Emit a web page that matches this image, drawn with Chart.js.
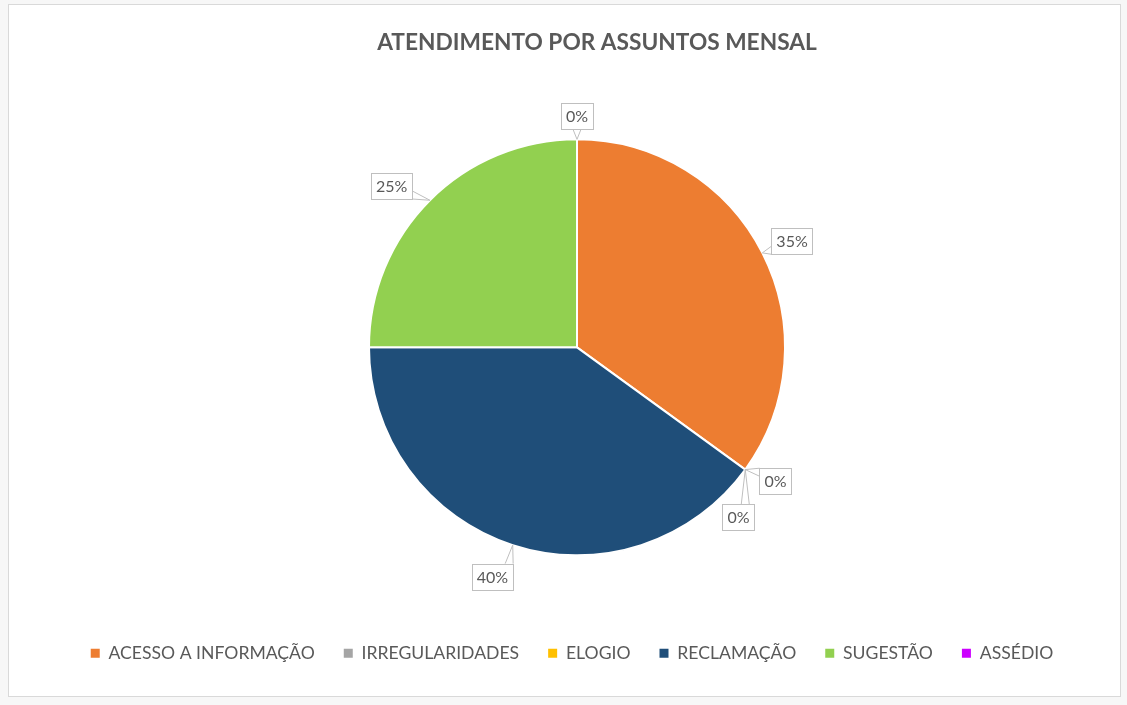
<!DOCTYPE html>
<html>
<head>
<meta charset="utf-8">
<script src="https://cdn.jsdelivr.net/npm/chart.js@4.4.0/dist/chart.umd.min.js"></script>
<style>
    html, body { margin: 0; padding: 0; background: #f7f7f7; }
    #box {
        position: absolute; left: 8px; top: 4px;
        width: 1111px; height: 691px;
        border: 1px solid #d9d9d9; background: #fff;
    }
    canvas { display: block; }
</style>
</head>
<body>
<div id="box"><canvas id="pieChart"></canvas></div>
<script>
const chartTitle = "ATENDIMENTO POR ASSUNTOS MENSAL";
const categories = ["ACESSO A INFORMAÇÃO", "IRREGULARIDADES", "ELOGIO", "RECLAMAÇÃO", "SUGESTÃO", "ASSÉDIO"];
const shares = [35, 0, 0, 40, 25, 0];
const sliceColors = ["#ED7D31", "#A5A5A5", "#FFC000", "#1F4E79", "#92D050", "#CC00FF"];

// callout boxes with a little pointer, placed just outside each slice
const calloutPlugin = {
    id: "callout",
    afterDatasetsDraw(chart, args, opts) {
        const ctx = chart.ctx;
        const meta = chart.getDatasetMeta(0);
        const values = chart.data.datasets[0].data;
        const total = values.reduce((a, b) => a + b, 0);

        ctx.save();
        ctx.font = opts.font;
        ctx.textAlign = "center";
        ctx.textBaseline = "middle";

        meta.data.forEach((arc, i) => {
            const p = arc.getProps(["x", "y", "startAngle", "endAngle", "outerRadius"], true);
            const mid = (p.startAngle + p.endAngle) / 2;
            const ax = p.x + Math.cos(mid) * p.outerRadius;
            const ay = p.y + Math.sin(mid) * p.outerRadius;
            const nudge = opts.nudges[i] || [0, 0];
            const cx = ax + Math.cos(mid) * opts.distance + nudge[0];
            const cy = ay + Math.sin(mid) * opts.distance + nudge[1];

            const text = Math.round(values[i] / total * 100) + "%";
            const w = ctx.measureText(text).width + opts.padX * 2;
            const h = opts.boxHeight;
            const left = cx - w / 2, top = cy - h / 2;

            // pointer base on the side facing the anchor
            const dx = ax - cx, dy = ay - cy;
            let b1, b2;
            if (Math.abs(dy) / h > Math.abs(dx) / w) {
                const sy = dy > 0 ? top + h : top;
                const px = Math.min(Math.max(ax, left + 4), left + w - 4);
                b1 = [Math.max(px - 4, left), sy];
                b2 = [Math.min(px + 4, left + w), sy];
            } else {
                const sx = dx > 0 ? left + w : left;
                const py = Math.min(Math.max(ay, top + 4), top + h - 4);
                b1 = [sx, Math.max(py - 4, top)];
                b2 = [sx, Math.min(py + 4, top + h)];
            }

            ctx.fillStyle = "#fff";
            ctx.strokeStyle = opts.lineColor;
            ctx.lineWidth = 1;
            ctx.fillRect(left, top, w, h);
            ctx.strokeRect(Math.round(left) + 0.5, Math.round(top) + 0.5, Math.round(w), Math.round(h));

            ctx.beginPath();
            ctx.moveTo(b1[0], b1[1]);
            ctx.lineTo(ax, ay);
            ctx.lineTo(b2[0], b2[1]);
            ctx.stroke();

            ctx.fillStyle = opts.color;
            ctx.fillText(text, cx, cy + 1);
        });
        ctx.restore();
    }
};

// title and legend are not centred on the pie in the original
const shiftBlocks = {
    id: "shiftBlocks",
    afterLayout(chart, args, opts) {
        chart.titleBlock.left += opts.title;
        chart.titleBlock.right += opts.title;
        chart.legend.left += opts.legend;
        chart.legend.right += opts.legend;
    }
};

const pieChart = new Chart(document.getElementById("pieChart"), {
    type: "pie",
    data: {
        labels: categories,
        datasets: [
            {
                data: shares,
                backgroundColor: sliceColors,
                borderColor: "#ffffff",
                borderWidth: 2,
                radius: 208,
            },
        ],
    },
    options: {
        responsive: true,
        maintainAspectRatio: false,
        animation: false,
        layout: { padding: { left: 25, right: 0, top: 0, bottom: 24 } },
        plugins: {
            title: {
                display: true,
                text: chartTitle,
                color: "#595959",
                font: { family: "Lato", size: 22.7, weight: "bold" },
                padding: { top: 24, bottom: 23 },
            },
            legend: {
                position: "bottom",
                labels: {
                    boxWidth: 9,
                    boxHeight: 9,
                    padding: 29,
                    color: "#595959",
                    font: { family: "Lato", size: 17.6 },
                    generateLabels(chart) {
                        return Chart.controllers.pie.overrides.plugins.legend.labels
                            .generateLabels(chart)
                            .map((item) => ({ ...item, lineWidth: 0 }));
                    },
                },
            },
            tooltip: { enabled: false },
            callout: {
                font: "16px Lato",
                color: "#595959",
                lineColor: "#BFBFBF",
                padX: 5,
                boxHeight: 26,
                distance: 30,
                nudges: [[3, 2], [6, -6], [-31, 30], [-11, 3], [-17, 7], [0, 7]],
            },
            shiftBlocks: { title: 20, legend: -5 },
        },
    },
    plugins: [calloutPlugin, shiftBlocks],
});
</script>
</body>
</html>
